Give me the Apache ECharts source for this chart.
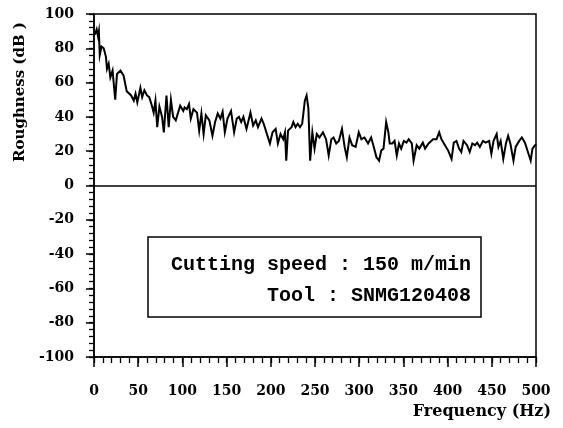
<!DOCTYPE html>
<html><head><meta charset="utf-8">
<script src="https://cdn.jsdelivr.net/npm/echarts@6/dist/echarts.min.js"></script>
<style>html,body{margin:0;padding:0;background:#fff}#c{width:563px;height:428px}</style>
</head><body><div id="c"></div>
<script>
const freq = [1,3,4.5,5.5,6.5,8.5,11,13.5,14.7,16.6,18.5,21,24,26,30,33.5,37,39,42,45,47,49,52.5,54.5,57,60,62.5,65.5,67.5,69.5,71.5,74,77,79,82,84.5,87,89.5,92.5,97.5,101,102.5,105,107.5,109.5,112.5,116.5,119,121.5,124,126.5,130.5,134,137,140,143,145.5,148,151,155,158.5,161.5,164,166.5,169,172.5,177,180,183,185.5,189.5,192,195,199,202,205.5,208,211,214,216,217.5,219.5,223.5,225.5,228,230.5,233,235.5,238.5,240.5,242.5,244.5,247,249.5,252,255,259,262.5,265.5,268.5,271,274,277,280.5,283.5,286,289,292,296,299.5,302.5,306,310,313.5,316.5,319.5,322.5,325,327.5,330.5,333,334.5,337.5,340,342.5,345,347.5,350.5,353.5,356,359.5,361.5,365,368,372,374.5,378.5,383.5,387.5,390.5,393,397,400.5,404.5,407,410,413,415.5,418,422,425,428,431,433.5,436.5,440,443,447,449.5,452,455.5,457.5,460,463,466,468.5,471,474.5,477,481,484,487.5,491.5,494,496,499,500];
const roughness = [88,91,87,90,76,81,80,75,68,71,63,67,50,65,67,64,55,54,52.5,49.5,53.5,48.5,57,51.5,55.5,52.5,51.5,46.5,42.5,49.5,34,46,40,31,52.5,34,50,40,38,46.5,43.5,45.5,44.5,47.5,39,44.5,42.5,32,42,30,41,38,29,37,42,39,43,31,39,43.5,31,39,40,37,40,33,42.5,35,38,34,39,36,31,24.5,31,33,24.5,30,27,31,14.5,32,34,37,34,36,34,36,49.5,52.5,45,14.5,31,21.5,30,28,31,27,17.5,27,28,24.5,26,33,22.5,16.5,28,23.5,22.5,31,27,28,24.5,28,22.5,16.5,14.5,20.5,21.5,37,31,24.5,24.5,26,17.5,24.5,21.5,26,25,27,24.5,14.5,23.5,21.5,25,21.5,24.5,27,27,31,27,23.5,20.5,15.5,25,26,21.5,19.5,26,23.5,19.5,24.5,23.5,25,22.5,26,25,26,18.5,26,30,22.5,26,15.5,24.5,29,24.5,14.5,22.5,26,28,25,18.5,14.5,21.5,23.5,24];
const xTicks = [0,50,100,150,200,250,300,350,400,450,500];
const yTicks = [-100,-80,-60,-40,-20,0,20,40,60,80,100];
const xTitle = 'Frequency (Hz)';
const yTitle = 'Roughness (dB )';
const noteLines = ['Cutting speed : 150 m/min', 'Tool : SNMG120408'];

const font = 'DejaVu Serif';
const xMin = xTicks[0], xMax = xTicks[xTicks.length-1];
const yMin = yTicks[0], yMax = yTicks[yTicks.length-1];
const lbl = {color:'#000', fontFamily:font, fontWeight:'bold', fontSize:14};
const gridPos = {left:94, right:27, top:14, bottom:71};
const chart = echarts.init(document.getElementById('c'), null, {renderer:'canvas'});
chart.setOption({
  animation:false,
  backgroundColor:'#fff',
  grid:[
    Object.assign({show:true, borderColor:'#000', borderWidth:1.5}, gridPos),
    Object.assign({show:false}, gridPos)
  ],
  xAxis:[
    {type:'value', gridIndex:0, min:xMin, max:xMax, interval:50,
     axisLine:{onZero:false, lineStyle:{color:'#000', width:1.5}},
     axisTick:{show:true, length:10, lineStyle:{color:'#000', width:1.5}},
     splitLine:{show:false},
     axisLabel:Object.assign({margin:27}, lbl)},
    {type:'value', gridIndex:1, min:xMin, max:xMax, interval:10, position:'bottom',
     axisLine:{show:false, onZero:false}, axisLabel:{show:false}, splitLine:{show:false},
     axisTick:{show:true, length:6, lineStyle:{color:'#000', width:1.3}}}
  ],
  yAxis:[
    {type:'value', gridIndex:0, min:yMin, max:yMax, interval:20,
     axisLine:{onZero:false, lineStyle:{color:'#000', width:1.5}},
     axisTick:{show:true, length:8, lineStyle:{color:'#000', width:1.5}},
     splitLine:{show:false},
     axisLabel:Object.assign({margin:20}, lbl)},
    {type:'value', gridIndex:1, min:yMin, max:yMax, interval:4, position:'left',
     axisLine:{show:false, onZero:false}, axisLabel:{show:false}, splitLine:{show:false},
     axisTick:{show:true, length:5, lineStyle:{color:'#000', width:1.3}}}
  ],
  series:[{type:'line', xAxisIndex:0, yAxisIndex:0, data:freq.map((f,i)=>[f, roughness[i]]), showSymbol:false, symbol:'none',
    lineStyle:{color:'#000', width:2, join:'miter'}, silent:true,
    markLine:{silent:true, symbol:['none','none'], label:{show:false},
      lineStyle:{color:'#000', width:1.5, type:'solid'}, data:[{yAxis:0}]}}],
  graphic:[
    {type:'text', x:551, y:412, style:{text:xTitle, fill:'#000', font:'bold 16px "DejaVu Serif"', textAlign:'right', textVerticalAlign:'middle'}},
    {type:'text', x:20, y:92, rotation:Math.PI/2, style:{text:yTitle, fill:'#000', font:'bold 15px "DejaVu Serif"', textAlign:'center', textVerticalAlign:'middle'}},
    {type:'rect', shape:{x:148, y:237, width:333, height:80}, style:{fill:'none', stroke:'#000', lineWidth:1.5}},
    {type:'text', x:471, y:265, style:{text:noteLines[0], fill:'#000', font:'bold 20px "Liberation Mono"', textAlign:'right', textVerticalAlign:'middle'}},
    {type:'text', x:471, y:296, style:{text:noteLines[1], fill:'#000', font:'bold 20px "Liberation Mono"', textAlign:'right', textVerticalAlign:'middle'}}
  ]
});
</script></body></html>
